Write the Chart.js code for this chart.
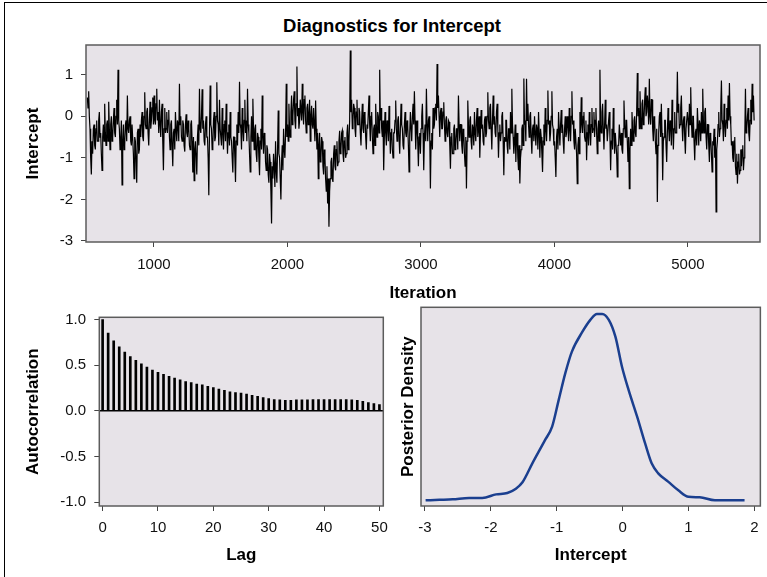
<!DOCTYPE html>
<html><head><meta charset="utf-8">
<script src="https://cdn.jsdelivr.net/npm/chart.js@4.4.1/dist/chart.umd.min.js"></script>
<style>
html,body{margin:0;padding:0;background:#fff;width:767px;height:577px;overflow:hidden;font-family:'Liberation Sans',Arial,sans-serif;}
#frame{position:absolute;left:4px;top:2px;width:800px;height:600px;border-left:1px solid #000;border-top:1px solid #000;}
#title{position:absolute;left:0;top:15px;width:784px;text-align:center;font-weight:bold;font-size:18.5px;color:#000;}
canvas{position:absolute;}
</style></head><body>
<div id="frame"></div>
<div id="title">Diagnostics for Intercept</div>
<canvas id="c1" width="767" height="305" style="left:0;top:0"></canvas>
<canvas id="c2" width="400" height="277" style="left:0;top:300px"></canvas>
<canvas id="c3" width="377" height="277" style="left:390px;top:300px"></canvas>
<script>
// ---------- data ----------
const iterStart = 501;
const iterStep = 5;
const interceptDraws = [
 0.45,0.2,0.6,0.0,-0.3,-1.0,-1.4,-0.6,-0.9,-0.3,-0.2,-0.7,-0.8,-0.3,-0.1,-0.6,-0.6,-0.1,0.1,-0.5,
 -0.4,-0.9,-1.3,-0.5,-0.2,-0.6,0.3,-0.4,-0.7,-0.2,-0.1,-0.6,0.35,-0.3,-0.8,-0.2,0.0,-0.6,-0.5,-0.1,
 0.2,-0.4,-0.5,0.0,0.4,-0.2,1.12,-0.1,-0.3,-0.8,-0.6,-0.1,-1.65,-0.6,-0.2,-0.8,-0.7,-0.2,-0.1,-0.6,
 0.5,-0.3,-0.4,-0.1,0.0,-0.6,-0.7,-0.2,-0.2,-0.9,-1.5,-0.5,-0.6,-1.1,-1.6,-0.4,-0.3,-0.9,-0.8,-0.2,
 -0.5,-0.1,0.1,-0.5,-0.6,0.0,0.58,-0.2,-0.3,0.1,0.2,-0.4,-0.7,-0.1,0.35,-0.3,-0.1,0.2,0.45,-0.2,
 0.5,-0.1,-0.2,0.3,0.66,-0.1,0.1,-0.4,0.4,-0.2,-0.5,0.1,0.3,-0.6,-1.3,-0.3,0.2,-0.4,-0.3,0.1,
 -0.4,-0.1,0.15,-0.5,-0.8,-0.2,-0.1,-0.7,-1.2,-0.4,-0.3,-0.8,0.1,-0.3,-0.6,-0.1,-0.2,-0.6,0.78,-0.2,
 0.0,-0.5,-0.6,-0.1,-0.2,-0.7,-0.85,-0.2,0.05,-0.4,-0.5,-0.1,-0.3,-0.7,-0.8,-0.2,-0.1,-0.6,-1.35,-0.5,
 -1.55,-0.8,-0.6,-1.0,-1.4,-0.5,-0.2,-0.7,0.66,-0.3,-0.4,0.0,0.65,-0.3,-0.1,-0.6,-0.7,-0.2,0.0,-0.5,
 -0.5,-1.0,-1.9,-0.4,0.74,-0.2,-0.3,-0.8,-0.7,-0.1,0.1,-0.6,-0.5,0.0,0.82,-0.1,-0.2,-0.7,0.4,-0.3,
 -0.3,-0.7,0.2,-0.4,-0.8,-0.2,-0.1,-0.6,0.3,-0.3,-0.9,-0.4,-0.2,-0.7,0.1,-0.5,-0.6,-1.0,-1.35,-0.5,
 -0.5,-1.0,-1.58,-0.6,-0.2,-0.7,0.1,-0.4,0.83,-0.2,-0.3,-0.8,0.2,-0.3,-0.6,-0.1,0.4,-0.4,-0.1,-0.6,
 0.66,-0.2,-0.4,-0.9,-1.34,-0.5,0.0,-0.6,0.42,-0.3,-0.8,-0.3,-0.2,-0.9,-1.1,-0.4,-0.5,-1.0,-1.42,-0.6,
 -0.3,-0.8,0.5,-0.5,-0.9,-0.4,-0.5,-1.1,-1.3,-0.7,-0.8,-1.4,-1.6,-0.9,-1.1,-1.8,-2.58,-1.2,-1.5,-0.9,
 -1.2,-1.7,-0.6,-1.3,-1.6,-0.8,0.14,-0.9,-1.0,-1.5,-2.0,-1.1,-0.7,-1.3,-0.3,-0.8,-1.0,-0.4,0.78,-0.5,
 -0.2,-0.6,0.3,-0.3,-0.5,0.1,0.5,-0.2,0.0,0.4,0.6,-0.1,-0.3,0.3,1.2,0.0,0.2,-0.3,-0.1,0.4,
 0.4,-0.1,0.78,0.1,-0.2,0.4,0.5,-0.1,-0.4,0.2,0.3,-0.2,0.0,0.4,-0.6,0.0,0.25,-0.2,-0.3,0.2,
 -0.2,-0.6,0.38,-0.3,-0.8,-0.4,-1.5,-0.7,-0.4,-1.1,-1.0,-0.5,-0.6,-1.2,-1.4,-0.8,-1.0,-1.5,-1.8,-1.2,
 -2.1,-1.5,-2.66,-1.8,-1.5,-1.1,-1.0,-1.5,-1.58,-0.9,-0.7,-1.2,-1.3,-0.8,-0.6,-1.2,-1.1,-0.6,-0.35,-0.9,
 -0.8,-0.4,-0.34,-0.9,-1.1,-0.6,-0.5,-1.0,-0.9,-0.4,-0.2,-0.8,-0.6,-0.1,1.58,0.1,0.4,-0.3,-0.1,0.3,
 0.2,-0.3,-0.5,0.1,0.4,-0.2,-0.2,0.2,0.1,-0.4,-0.7,-0.1,0.3,-0.3,-0.4,0.1,0.0,-0.5,-0.8,-0.2,
 -0.3,0.1,0.5,-0.2,-0.6,0.0,0.1,-0.5,-0.9,-0.3,-0.2,-0.7,0.3,-0.2,-0.5,0.1,0.0,-0.4,1.12,-0.1,
 0.2,-0.3,-0.5,-0.1,-1.3,-0.5,0.1,-0.4,-0.7,-0.1,-0.2,-0.6,0.25,-0.3,-0.9,-0.4,-0.3,-0.8,-1.0,-0.4,
 -0.4,-0.1,0.38,-0.3,-0.6,-0.1,0.0,-0.5,-0.9,-0.3,0.3,-0.2,-0.3,-0.7,-0.8,-0.2,0.1,-0.4,-0.5,-0.1,
 -0.2,-0.7,-1.34,-0.4,0.1,-0.3,-0.6,0.0,0.3,-0.2,0.6,-0.1,-0.8,-0.3,-0.1,-0.6,-1.2,-0.5,-0.4,-0.9,
 -0.3,0.0,0.3,-0.4,-1.3,-0.5,-0.2,-0.6,0.66,-0.2,-0.6,-0.1,0.0,-0.5,-1.74,-0.6,-0.4,-0.8,0.2,-0.3,
 -0.2,0.2,0.3,-0.1,1.26,0.2,0.5,0.0,-0.5,0.1,0.2,-0.3,-0.3,0.1,0.34,-0.2,-0.6,-0.1,0.0,-0.4,
 -0.5,-0.1,-0.14,-0.7,-1.26,-0.5,-0.4,-0.9,-0.9,-0.3,-0.2,-0.8,-0.7,-0.3,-0.3,-0.8,0.5,-0.2,-0.6,-0.2,
 -0.2,-0.7,-0.9,-0.3,-0.4,-0.9,-1.2,-0.5,-1.74,-0.6,0.38,-0.2,-0.5,-0.1,0.0,-0.6,-0.8,-0.2,-0.3,-0.7,
 0.1,-0.4,-0.6,-0.1,0.2,-0.5,-0.3,0.0,-1.0,-0.4,0.15,-0.3,-0.2,-0.6,-0.7,-0.1,0.0,-0.5,-0.4,0.0,
 0.58,-0.1,-0.3,0.2,0.3,-0.3,-0.8,-0.1,0.5,-0.2,0.0,-0.4,-0.5,0.1,0.3,-0.3,-1.0,-0.4,-0.2,-0.6,
 -0.4,0.0,0.1,-0.6,-1.42,-0.5,-0.6,-0.1,-0.1,-0.7,-0.9,-0.3,-0.3,-0.8,0.1,-0.4,0.66,-0.2,-0.5,-0.9,
 -0.6,-0.2,-1.1,-0.5,-0.4,-1.0,-1.3,-0.7,-1.62,-1.0,-0.8,-0.3,-0.2,-0.7,0.91,-0.2,-0.1,-0.6,0.9,-0.1,
 0.3,-0.2,-0.5,0.0,0.1,-0.5,-0.9,-0.3,-0.2,-0.6,0.0,-0.4,-0.7,-0.2,-0.3,-0.8,0.1,-0.4,-1.0,-0.3,
 -0.5,-0.9,-1.34,-0.6,-0.2,-0.7,0.2,-0.3,-0.6,-0.1,0.62,-0.2,-0.1,-0.6,-0.4,0.0,0.6,-0.2,-0.3,-0.7,
 -0.6,-1.0,-1.46,-0.5,-0.3,-0.8,0.1,-0.3,-0.7,-0.2,0.15,-0.4,-0.2,-0.6,-0.9,-0.3,0.0,-0.5,-0.4,0.0,
 -0.2,-0.6,0.2,-0.3,-0.6,0.0,0.6,-0.2,-0.1,-0.6,-0.8,-0.3,-0.3,-0.9,-1.62,-0.7,-0.5,-0.9,0.1,-0.4,
 0.46,-0.2,-0.4,0.0,0.1,-0.5,-0.6,-0.1,-1.06,-0.4,-0.2,-0.7,0.1,-0.3,-0.7,-0.2,0.2,-0.4,-0.3,0.1,
 -0.5,-0.1,0.2,-0.4,-0.9,-0.3,-0.1,-0.6,1.12,-0.2,-0.4,0.1,0.3,-0.3,-0.8,-0.2,0.4,-0.3,-0.2,-0.6,
 -0.6,-0.1,0.1,-0.5,-1.3,-0.6,-0.3,-0.8,0.2,-0.3,-0.9,-0.4,-0.4,-0.9,-1.46,-0.7,-0.7,-0.2,-0.2,-0.7,
 -0.4,-0.8,-0.9,-0.3,0.38,-0.2,-0.5,-0.1,-0.1,-0.6,-1.1,-0.5,-1.74,-0.8,-0.3,-0.7,0.1,-0.3,-0.6,-0.1,
 0.0,-0.4,-0.5,0.1,1.04,0.0,0.2,-0.3,0.6,0.0,-0.3,0.3,0.4,-0.2,-0.1,0.4,0.7,0.0,0.1,0.5,
 0.3,-0.2,0.9,0.0,-0.2,0.4,0.4,-0.3,-0.6,0.0,-0.1,-0.6,-0.9,-0.3,-2.06,-0.7,-0.4,0.0,0.1,-0.5,
 0.3,-0.4,-1.54,-0.6,-0.5,-0.1,-0.1,-0.7,-1.1,-0.4,0.2,-0.3,-0.6,-0.1,-0.2,-0.7,0.4,-0.2,-0.8,-0.3,
 0.1,-0.4,-0.4,0.0,1.07,0.1,0.3,-0.3,-0.2,0.2,0.5,-0.2,-0.6,-0.1,0.0,-0.5,-0.9,-0.3,-0.3,0.1,
 -0.1,-0.5,0.3,-0.2,0.7,-0.1,-0.5,0.0,0.0,-0.6,-1.06,-0.4,-0.3,-0.7,0.2,-0.2,-0.7,-0.1,-0.2,-0.6,
 0.1,-0.4,0.66,-0.1,-0.4,0.1,0.2,-0.5,-0.8,-0.2,-0.2,-0.7,-1.1,-0.4,-0.5,-0.9,-1.34,-0.6,-0.7,-0.3,
 -1.0,-0.5,-2.3,-0.8,-0.6,-0.2,0.1,-0.5,-0.3,0.2,0.86,-0.1,-0.2,-0.6,0.3,-0.2,-0.5,-0.1,0.2,-0.3,
 0.5,-0.1,0.8,0.0,-0.2,-0.7,-0.6,-1.0,-1.1,-0.6,-0.5,-1.2,-1.4,-0.9,-1.62,-1.1,-0.9,-1.4,-1.3,-0.8,
 -1.2,-0.8,-0.7,-1.3,-1.0,-0.5,0.66,-0.4,-0.3,0.0,0.2,-0.4,-0.6,-0.1,0.4,-0.2,0.78,0.1,0.5,-0.1
];
const iterTicks = [1000, 2000, 3000, 4000, 5000];
const interceptTicks = [-3, -2, -1, 0, 1];

const lags = [0,1,2,3,4,5,6,7,8,9,10,11,12,13,14,15,16,17,18,19,20,21,22,23,24,25,26,27,28,29,30,31,32,33,34,35,36,37,38,39,40,41,42,43,44,45,46,47,48,49,50];
const autocorr = [1.0,0.854,0.768,0.703,0.645,0.596,0.553,0.516,0.48,0.448,0.423,0.40,0.38,0.36,0.34,0.32,0.31,0.295,0.285,0.27,0.255,0.24,0.225,0.21,0.20,0.195,0.185,0.17,0.16,0.145,0.135,0.125,0.12,0.115,0.115,0.12,0.12,0.12,0.125,0.125,0.125,0.125,0.125,0.125,0.125,0.12,0.115,0.105,0.09,0.08,0.07];
const lagTicks = [0, 10, 20, 30, 40, 50];
const acfTicks = [-1.0, -0.5, 0.0, 0.5, 1.0];

const densX = [-2.99,-2.78,-2.58,-2.33,-2.13,-1.92,-1.75,-1.62,-1.52,-1.37,-1.17,-1.07,-0.97,-0.87,-0.77,-0.61,-0.49,-0.39,-0.31,-0.21,-0.11,-0.01,0.09,0.22,0.34,0.44,0.54,0.69,0.85,1.0,1.17,1.40,1.85];
const densY = [0.0,0.002,0.004,0.01,0.01,0.025,0.031,0.049,0.076,0.156,0.258,0.311,0.424,0.537,0.628,0.712,0.762,0.787,0.787,0.762,0.691,0.564,0.466,0.353,0.241,0.156,0.114,0.079,0.041,0.015,0.013,0.0,0.0];
const densTicks = [-3, -2, -1, 0, 1, 2];

// ---------- styling ----------
const WALL = '#e7e3e8';
const FRAME = '#5c5c5c';
const TICKCOL = '#444';
Chart.defaults.font.family = "'Liberation Sans', Arial, sans-serif";
Chart.defaults.color = '#111';
Chart.defaults.animation = false;

const wallPlugin = {
  id: 'wall',
  beforeDraw(chart) {
    const {ctx, chartArea: a} = chart;
    ctx.save(); ctx.fillStyle = WALL;
    ctx.fillRect(a.left, a.top, a.right - a.left, a.bottom - a.top);
    ctx.restore();
  },
  afterDraw(chart) {
    const {ctx, chartArea: a} = chart;
    ctx.save(); ctx.strokeStyle = FRAME; ctx.lineWidth = 1.5;
    ctx.strokeRect(a.left, a.top, a.right - a.left, a.bottom - a.top);
    ctx.restore();
  }
};
const zeroLine = {
  id: 'zeroLine',
  afterDatasetsDraw(chart) {
    const {ctx, chartArea: a, scales} = chart;
    const y = scales.y.getPixelForValue(0);
    ctx.save(); ctx.strokeStyle = '#000'; ctx.lineWidth = 1.5;
    ctx.beginPath(); ctx.moveTo(a.left, y); ctx.lineTo(a.right, y); ctx.stroke();
    ctx.restore();
  }
};

function tickSet(arr) { return s => { s.ticks = arr.map(v => ({value: v})); }; }
function gridOpts(draw) {
  return {drawOnChartArea: false, drawTicks: draw, tickLength: 5, tickColor: TICKCOL, tickWidth: 1};
}
const tickFont = {size: 15};
const titleFont = {size: 17, weight: 'bold'};
const basePlugins = {legend: {display: false}, tooltip: {enabled: false}};

// ---------- trace ----------
new Chart(document.getElementById('c1'), {
  type: 'line',
  data: {datasets: [{
    data: interceptDraws.map((v, i) => ({x: iterStart + i * iterStep, y: v})),
    borderColor: '#000', borderWidth: 1.2, pointRadius: 0, tension: 0
  }]},
  options: {
    responsive: false,
    layout: {padding: {left: 0, top: 45, right: 7, bottom: 0}},
    plugins: basePlugins,
    scales: {
      x: {type: 'linear', min: 491, max: 5540, afterBuildTicks: tickSet(iterTicks),
          ticks: {autoSkip: false, maxRotation: 0, padding: 9, font: tickFont, callback: v => String(v)},
          grid: gridOpts(true), border: {display: false},
          title: {display: true, text: 'Iteration', font: titleFont, color: '#000', padding: {top: 0, bottom: 1.8}},
          afterFit: s => { s.height = 63; }},
      y: {type: 'linear', min: -3.025, max: 1.715, afterBuildTicks: tickSet(interceptTicks),
          ticks: {autoSkip: false, padding: 8, font: tickFont, callback: v => String(v)},
          grid: gridOpts(true), border: {display: false},
          title: {display: true, text: 'Intercept', font: titleFont, color: '#000', padding: {top: 22.8, bottom: 0}},
          afterFit: s => { s.width = 86; }}
    }
  },
  plugins: [wallPlugin]
});

// ---------- autocorrelation ----------
new Chart(document.getElementById('c2'), {
  type: 'bar',
  data: {datasets: [{
    data: lags.map((l, i) => ({x: l, y: autocorr[i]})),
    backgroundColor: '#000', borderWidth: 0, barThickness: 2
  }]},
  options: {
    responsive: false,
    layout: {padding: {left: 0, top: 13.3, right: 16.7, bottom: 0}},
    plugins: basePlugins,
    scales: {
      x: {type: 'linear', offset: false, min: -0.6, max: 50.7, afterBuildTicks: tickSet(lagTicks),
          ticks: {autoSkip: false, maxRotation: 0, padding: 7.7, font: tickFont, callback: v => String(v)},
          grid: Object.assign(gridOpts(true), {offset: false}), border: {display: false},
          title: {display: true, text: 'Lag', font: titleFont, color: '#000', padding: {top: 0, bottom: 11.8}},
          afterFit: s => { s.height = 71; }},
      y: {type: 'linear', min: -1.043, max: 1.026, afterBuildTicks: tickSet(acfTicks),
          ticks: {autoSkip: false, padding: 8.3, font: tickFont, callback: v => v.toFixed(1)},
          grid: gridOpts(true), border: {display: false},
          title: {display: true, text: 'Autocorrelation', font: titleFont, color: '#000', padding: {top: 23.1, bottom: 0}},
          afterFit: s => { s.width = 99.3; }}
    }
  },
  plugins: [wallPlugin, zeroLine]
});

// ---------- density ----------
new Chart(document.getElementById('c3'), {
  type: 'line',
  data: {datasets: [{
    data: densX.map((x, i) => ({x: x, y: densY[i]})),
    borderColor: '#1b3f8f', borderWidth: 2.5, pointRadius: 0, cubicInterpolationMode: 'monotone'
  }]},
  options: {
    responsive: false,
    layout: {padding: {left: 0, top: 7.3, right: 5.3, bottom: 0}},
    plugins: basePlugins,
    scales: {
      x: {type: 'linear', min: -3.06, max: 2.09, afterBuildTicks: tickSet(densTicks),
          ticks: {autoSkip: false, maxRotation: 0, padding: 8.3, font: tickFont, callback: v => String(v)},
          grid: gridOpts(true), border: {display: false},
          title: {display: true, text: 'Intercept', font: titleFont, color: '#000', padding: {top: 0, bottom: 11.8}},
          afterFit: s => { s.height = 71; }},
      y: {type: 'linear', min: -0.024, max: 0.815,
          ticks: {display: false},
          grid: gridOpts(false), border: {display: false},
          title: {display: true, text: 'Posterior Density', font: titleFont, color: '#000', padding: {top: 8.1, bottom: 0}},
          afterFit: s => { s.width = 31; }}
    }
  },
  plugins: [wallPlugin]
});
</script>
</body></html>
